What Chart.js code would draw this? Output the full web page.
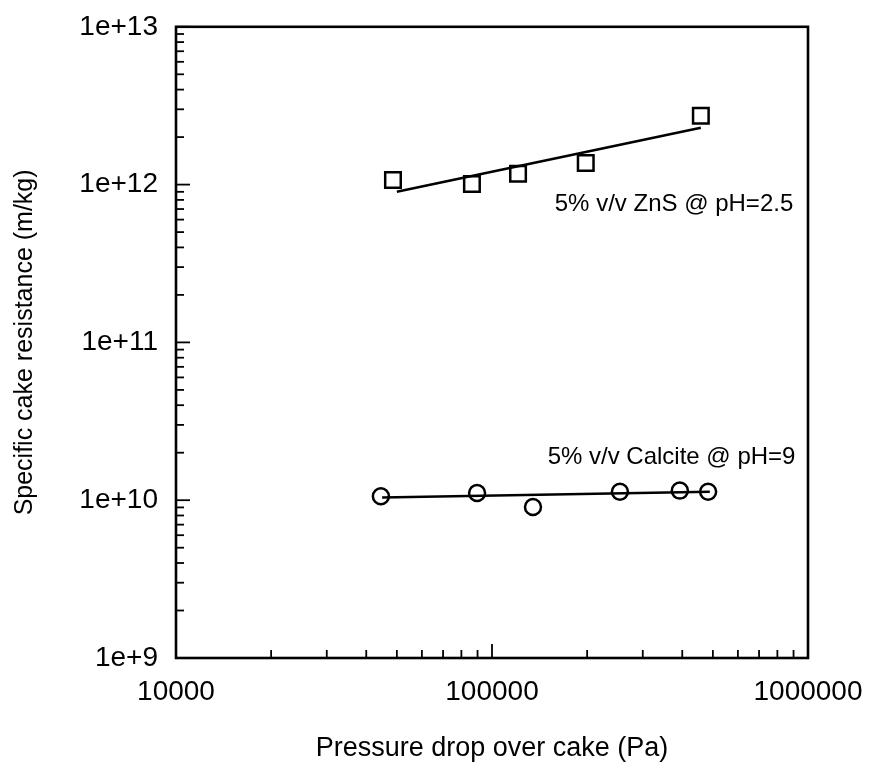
<!DOCTYPE html>
<html>
<head>
<meta charset="utf-8">
<script src="https://cdn.jsdelivr.net/npm/chart.js@4"></script>
<style>
  body { margin: 0; background: #fff; }
  #wrap { width: 869px; height: 769px; }
</style>
</head>
<body>
<div id="wrap"><canvas id="cakeChart"></canvas></div>
<script>
// --- Data ---
const znsPressure = [48600, 86400, 120900, 198000, 458000];
const znsResistance = [1.07e12, 1.01e12, 1.17e12, 1.37e12, 2.73e12];
const znsFitPressure = [50000, 458000];
const znsFitResistance = [9.0e11, 2.29e12];

const calcitePressure = [44500, 89700, 134800, 254000, 393000, 483000];
const calciteResistance = [1.06e10, 1.11e10, 9.06e9, 1.13e10, 1.15e10, 1.13e10];
const calciteFitPressure = [44900, 489000];
const calciteFitResistance = [1.04e10, 1.13e10];

const xTickValues = [10000, 100000, 1000000];
const xTickLabels = ['10000', '100000', '1000000'];
const yTickValues = [1e9, 1e10, 1e11, 1e12, 1e13];
const yTickLabels = ['1e+9', '1e+10', '1e+11', '1e+12', '1e+13'];

const notes = [
    { text: '5% v/v ZnS @ pH=2.5', x: 158000, y: 7.45e11 },
    { text: '5% v/v Calcite @ pH=9', x: 150000, y: 1.88e10 }
];

const FONT = "'Liberation Sans', Arial, sans-serif";

function toPoints(xs, ys) {
    return xs.map((x, i) => ({ x: x, y: ys[i] }));
}

// frame, inward ticks and the two labels
const framePlugin = {
    id: 'frame',
    afterDraw(chart) {
        const ctx = chart.ctx;
        const a = chart.chartArea;
        const xs = chart.scales.x;
        const ys = chart.scales.y;
        ctx.save();
        ctx.strokeStyle = '#000';
        ctx.lineWidth = 1.8;
        // x ticks
        for (let k = 4; k <= 6; k++) {
            for (let m = 1; m <= 9; m++) {
                const v = m * Math.pow(10, k);
                if (v > 1e6) break;
                const px = xs.getPixelForValue(v);
                const len = m === 1 ? 14 : 8;
                ctx.beginPath();
                ctx.moveTo(px, a.bottom);
                ctx.lineTo(px, a.bottom - len);
                ctx.stroke();
            }
        }
        // y ticks
        for (let k = 9; k <= 13; k++) {
            for (let m = 1; m <= 9; m++) {
                const v = m * Math.pow(10, k);
                if (v > 1e13) break;
                const py = ys.getPixelForValue(v);
                const len = m === 1 ? 14 : 8;
                ctx.beginPath();
                ctx.moveTo(a.left, py);
                ctx.lineTo(a.left + len, py);
                ctx.stroke();
            }
        }
        ctx.lineWidth = 2.6;
        ctx.strokeRect(a.left, a.top, a.right - a.left, a.bottom - a.top);

        ctx.fillStyle = '#000';
        ctx.font = '24px ' + FONT;
        ctx.textAlign = 'left';
        ctx.textBaseline = 'middle';
        notes.forEach(n => {
            ctx.fillText(n.text, xs.getPixelForValue(n.x), ys.getPixelForValue(n.y));
        });
        ctx.restore();
    }
};

const ctx = document.getElementById('cakeChart').getContext('2d');
new Chart(ctx, {
    type: 'scatter',
    data: {
        datasets: [
            {
                label: 'ZnS',
                data: toPoints(znsPressure, znsResistance),
                pointStyle: 'rect',
                pointRadius: 11,
                pointHoverRadius: 11,
                borderColor: '#000',
                backgroundColor: 'rgba(0,0,0,0)',
                pointBorderWidth: 2.5,
                showLine: false
            },
            {
                label: 'ZnS fit',
                data: toPoints(znsFitPressure, znsFitResistance),
                showLine: true,
                pointRadius: 0,
                borderColor: '#000',
                borderWidth: 2.5
            },
            {
                label: 'Calcite',
                data: toPoints(calcitePressure, calciteResistance),
                pointStyle: 'circle',
                pointRadius: 8,
                pointHoverRadius: 8,
                borderColor: '#000',
                backgroundColor: 'rgba(0,0,0,0)',
                pointBorderWidth: 2.5,
                showLine: false
            },
            {
                label: 'Calcite fit',
                data: toPoints(calciteFitPressure, calciteFitResistance),
                showLine: true,
                pointRadius: 0,
                borderColor: '#000',
                borderWidth: 2.5
            }
        ]
    },
    options: {
        responsive: true,
        maintainAspectRatio: false,
        animation: false,
        layout: { padding: { top: 19, right: 61, left: 0, bottom: 0 } },
        plugins: {
            legend: { display: false },
            tooltip: { enabled: false }
        },
        scales: {
            x: {
                type: 'logarithmic',
                min: 10000,
                max: 1000000,
                afterBuildTicks: s => { s.ticks = xTickValues.map(v => ({ value: v })); },
                afterFit: s => { s.height = 111; s.paddingRight = 0; },
                grid: { display: false },
                border: { display: false },
                ticks: {
                    autoSkip: false,
                    maxRotation: 0,
                    padding: 9,
                    color: '#000',
                    font: { family: FONT, size: 28 },
                    callback: (v, i) => xTickLabels[i]
                },
                title: {
                    display: true,
                    text: 'Pressure drop over cake (Pa)',
                    color: '#000',
                    font: { family: FONT, size: 27 },
                    padding: { top: 0, bottom: 4 }
                }
            },
            y: {
                type: 'logarithmic',
                min: 1e9,
                max: 1e13,
                afterBuildTicks: s => { s.ticks = yTickValues.map(v => ({ value: v })); },
                afterFit: s => { s.width = 176; },
                grid: { display: false },
                border: { display: false },
                ticks: {
                    autoSkip: false,
                    padding: 10,
                    color: '#000',
                    font: { family: FONT, size: 28 },
                    callback: (v, i) => yTickLabels[i]
                },
                title: {
                    display: true,
                    text: 'Specific cake resistance (m/kg)',
                    color: '#000',
                    font: { family: FONT, size: 25 },
                    padding: { top: 10, bottom: 0 }
                }
            }
        }
    },
    plugins: [framePlugin]
});
</script>
</body>
</html>
